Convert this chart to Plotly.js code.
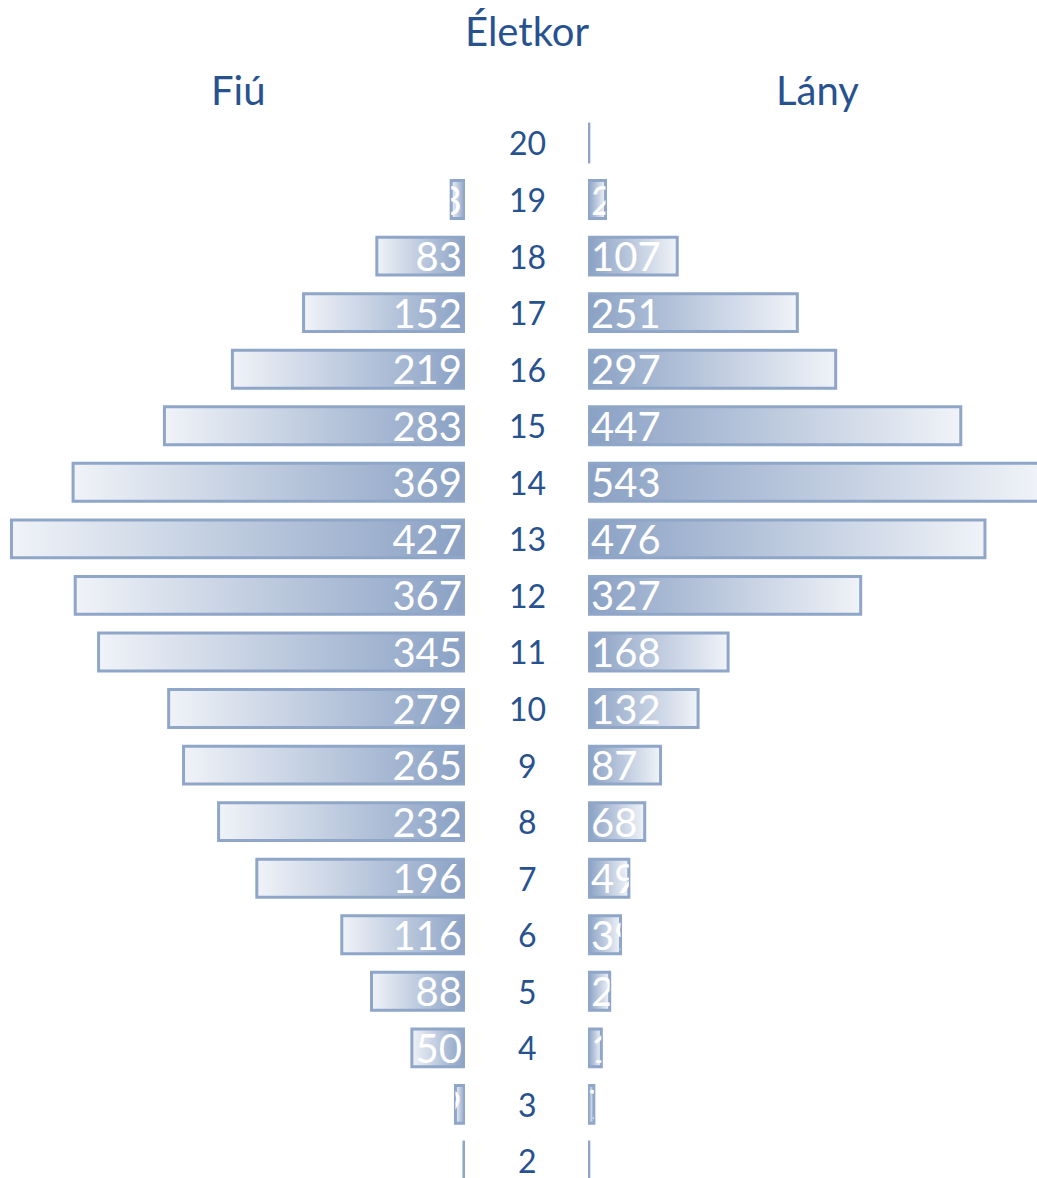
<!DOCTYPE html>
<html>
<head>
<meta charset="utf-8">
<script src="https://cdn.plot.ly/plotly-3.0.1.min.js"></script>
<style>
  html, body { margin: 0; padding: 0; background: #ffffff; }
  #chart { width: 1037px; height: 1178px; }
</style>
</head>
<body>
<div id="chart"></div>
<script>
// Age groups (years) and head counts by sex
const ages  = [2, 3, 4, 5, 6, 7, 8, 9, 10, 11, 12, 13, 14, 15, 16, 17, 18, 19, 20];
const boys  = [1, 9, 50, 88, 116, 196, 232, 265, 279, 345, 367, 427, 369, 283, 219, 152, 83, 13, null];
const girls = [1, 7, 16, 26, 39, 49, 68, 87, 132, 168, 327, 476, 543, 447, 297, 251, 107, 21, 1];

const titleText = 'Életkor';
const boysLabel = 'Fiú';
const girlsLabel = 'Lány';

const BLUE = '#27528F';
const EDGE = 'rgb(143,166,200)';
const FONT = 'Lato, "Open Sans", sans-serif';

const barCommon = {
  type: 'bar',
  orientation: 'h',
  y: ages,
  texttemplate: '%{x}',
  textposition: 'inside',
  insidetextanchor: 'start',
  constraintext: 'none',
  textangle: 0,
  textfont: { family: FONT, size: 40, color: '#ffffff' },
  marker: { color: 'rgb(190,203,222)', line: { color: EDGE, width: 3 } },
  hoverinfo: 'skip',
  showlegend: false
};

const data = [
  Object.assign({}, barCommon, { x: boys, xaxis: 'x', yaxis: 'y', name: boysLabel }),
  Object.assign({}, barCommon, { x: girls, xaxis: 'x2', yaxis: 'y', name: girlsLabel })
];

const headFont = { family: FONT, size: 40, color: BLUE };

const annotations = [
  { text: titleText, xref: 'paper', yref: 'paper', x: 0.5082, y: 0.9737, showarrow: false,
    font: headFont, xanchor: 'center', yanchor: 'middle' },
  { text: boysLabel, xref: 'paper', yref: 'paper', x: 0.2295, y: 0.9236, showarrow: false,
    font: headFont, xanchor: 'center', yanchor: 'middle' },
  { text: girlsLabel, xref: 'paper', yref: 'paper', x: 0.788, y: 0.9236, showarrow: false,
    font: headFont, xanchor: 'center', yanchor: 'middle' }
].concat(ages.map(a => ({
  text: String(a), xref: 'paper', yref: 'y', x: 0.5082, y: a, showarrow: false,
  font: { family: FONT, size: 32, color: BLUE }, xanchor: 'center', yanchor: 'middle'
})));

const layout = {
  width: 1037,
  height: 1178,
  margin: { l: 0, r: 0, t: 0, b: 0, pad: 0 },
  paper_bgcolor: '#ffffff',
  plot_bgcolor: 'rgba(0,0,0,0)',
  bargap: 0.33,
  xaxis: { domain: [0, 465 / 1037], range: [437.8, 0], visible: false, fixedrange: true },
  xaxis2: { domain: [588 / 1037, 1], range: [0, 538.4], visible: false, fixedrange: true, anchor: 'y' },
  yaxis: { range: [1.699, 22.528], visible: false, fixedrange: true },
  annotations: annotations
};

// Gradient fills and clipping of value labels to their bars
function decorate(gd) {
  const svg = gd.querySelector('.main-svg');
  const NS = 'http://www.w3.org/2000/svg';
  let defs = svg.querySelector('defs#bar-decor');
  if (!defs) {
    defs = document.createElementNS(NS, 'defs');
    defs.setAttribute('id', 'bar-decor');
    svg.insertBefore(defs, svg.firstChild);
  }
  defs.innerHTML =
    '<linearGradient id="gradBoys" x1="0" y1="0" x2="1" y2="0">' +
      '<stop offset="0" stop-color="rgb(240,243,248)"/>' +
      '<stop offset="1" stop-color="rgb(138,161,196)"/>' +
    '</linearGradient>' +
    '<linearGradient id="gradGirls" x1="0" y1="0" x2="1" y2="0">' +
      '<stop offset="0" stop-color="rgb(138,161,196)"/>' +
      '<stop offset="1" stop-color="rgb(240,243,248)"/>' +
    '</linearGradient>';

  const traces = gd.querySelectorAll('.barlayer .trace.bars');
  traces.forEach((tr, ti) => {
    const grad = ti === 0 ? 'url(#gradBoys)' : 'url(#gradGirls)';
    tr.querySelectorAll('.point').forEach((pt, pi) => {
      const path = pt.querySelector('path');
      const txt = pt.querySelector('text');
      if (path) path.style.fill = grad;
      if (!txt) return;
      const id = 'clip-' + ti + '-' + pi;
      const cp = document.createElementNS(NS, 'clipPath');
      cp.setAttribute('id', id);
      const r = document.createElementNS(NS, 'rect');
      let bb = { x: 0, y: 0, width: 0, height: 0 };
      if (path) { try { bb = path.getBBox(); } catch (e) {} }
      r.setAttribute('x', bb.x);
      r.setAttribute('y', bb.y);
      r.setAttribute('width', bb.width);
      r.setAttribute('height', bb.height);
      cp.appendChild(r);
      defs.appendChild(cp);
      const g = document.createElementNS(NS, 'g');
      g.setAttribute('clip-path', 'url(#' + id + ')');
      pt.appendChild(g);
      g.appendChild(txt);
    });
  });
}

Plotly.newPlot('chart', data, layout, { staticPlot: true, displayModeBar: false })
  .then(decorate);
</script>
</body>
</html>
